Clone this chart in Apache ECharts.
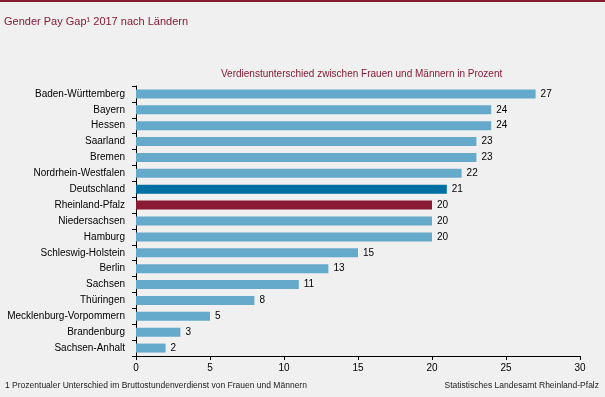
<!DOCTYPE html>
<html>
<head>
<meta charset="utf-8">
<script src="https://cdn.jsdelivr.net/npm/echarts@6/dist/echarts.min.js"></script>
<style>
  html, body { margin: 0; padding: 0; background: #eff0ef; }
  #main { width: 605px; height: 397px; }
</style>
</head>
<body>
<div id="main"></div>
<script>
// data, top to bottom
const laender = ['Baden-Württemberg', 'Bayern', 'Hessen', 'Saarland', 'Bremen', 'Nordrhein-Westfalen',
  'Deutschland', 'Rheinland-Pfalz', 'Niedersachsen', 'Hamburg', 'Schleswig-Holstein', 'Berlin',
  'Sachsen', 'Thüringen', 'Mecklenburg-Vorpommern', 'Brandenburg', 'Sachsen-Anhalt']
const gap = [27, 24, 24, 23, 23, 22, 21, 20, 20, 20, 15, 13, 11, 8, 5, 3, 2]
const xTicks = [0, 5, 10, 15, 20, 25, 30]

const chart = echarts.init(document.getElementById('main'))

// special colours for Germany / RLP
function barColor(name) {
  if (name === 'Deutschland') return '#0070a2'
  if (name === 'Rheinland-Pfalz') return '#8a1b35'
  return '#66aacb'
}

const font = 'Arial, "Liberation Sans", sans-serif'

const option = {
  backgroundColor: '#eff0ef',
  animation: false,
  graphic: [
    { type: 'rect', shape: { x: 0, y: 0, width: 605, height: 2 }, style: { fill: '#8a1b35' } },
    { type: 'text', left: 4, top: 16, style: { text: 'Gender Pay Gap¹ 2017 nach Ländern', fill: '#8a1b35', font: '11px ' + font } },
    { type: 'text', left: 221, top: 69, style: { text: 'Verdienstunterschied zwischen Frauen und Männern in Prozent', fill: '#8a1b35', font: '10px ' + font } },
    { type: 'text', left: 5, top: 381, style: { text: '1 Prozentualer Unterschied im Bruttostundenverdienst von Frauen und Männern', fill: '#222', font: '8.5px ' + font } },
    { type: 'text', right: 6, top: 381, style: { text: 'Statistisches Landesamt Rheinland-Pfalz', fill: '#222', font: '8.5px ' + font, align: 'right' } }
  ],
  grid: { left: 136, right: 25, top: 86, bottom: 41 },
  xAxis: {
    type: 'value', min: 0, max: 30, interval: 5,
    splitLine: { show: false },
    axisLine: { show: true, lineStyle: { color: '#000' } },
    axisTick: { show: true, length: 4, lineStyle: { color: '#000' } },
    axisLabel: {
      color: '#000', fontSize: 10, fontFamily: font, margin: 7,
      formatter: v => xTicks.includes(v) ? String(v) : ''
    }
  },
  yAxis: {
    type: 'category', inverse: true, data: laender,
    axisLine: { show: true, lineStyle: { color: '#000' } },
    axisTick: { show: true, length: 4, lineStyle: { color: '#000' } },
    axisLabel: { color: '#000', fontSize: 10, fontFamily: font, margin: 11 }
  },
  series: [{
    type: 'bar',
    barWidth: 9,
    data: gap.map((v, i) => ({ value: v, itemStyle: { color: barColor(laender[i]) } })),
    label: { show: true, position: 'right', distance: 5, color: '#000', fontSize: 10, fontFamily: font }
  }]
}

chart.setOption(option)
</script>
</body>
</html>
